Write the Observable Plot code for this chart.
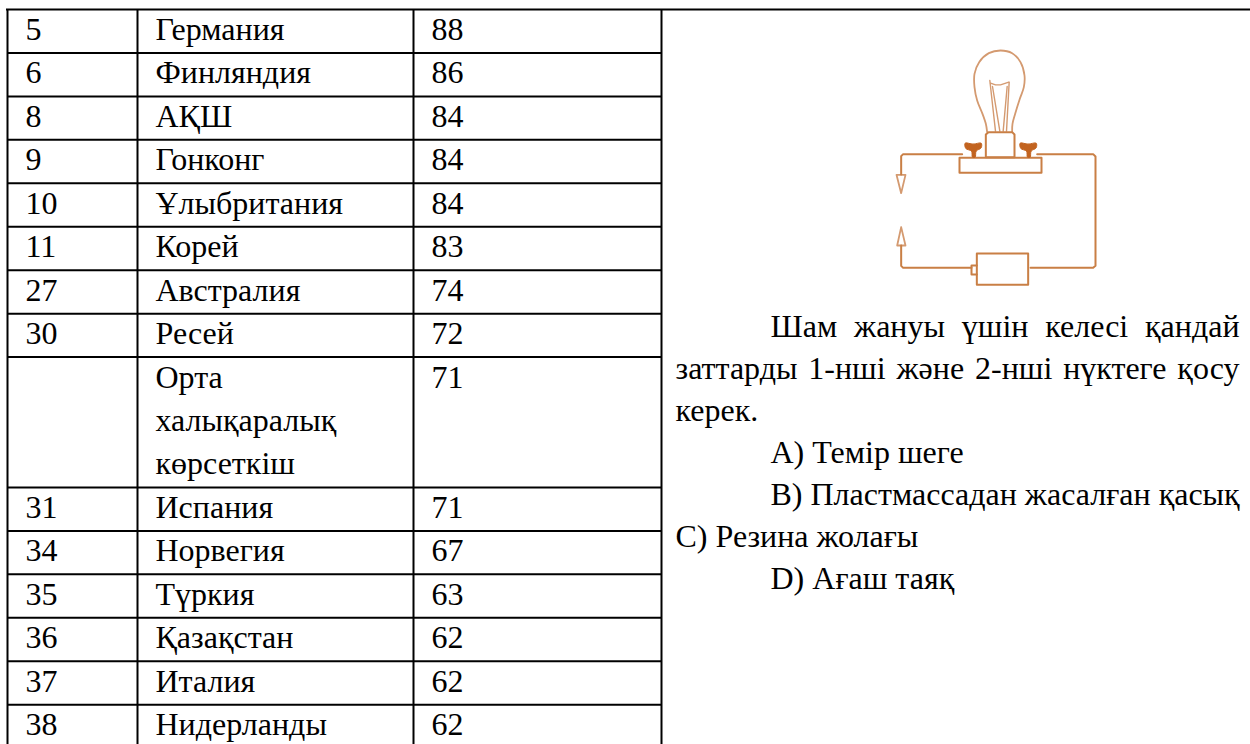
<!DOCTYPE html>
<html lang="kk">
<head>
<meta charset="utf-8">
<script src="https://cdn.jsdelivr.net/npm/d3@7"></script>
<script src="https://cdn.jsdelivr.net/npm/@observablehq/plot@0.6"></script>
<style>
html,body{margin:0;padding:0;background:#fff;overflow:hidden}
svg{display:block}
</style>
</head>
<body>
<div id="chart"></div>
<script>
// --- table data ---
const ranks = ["5","6","8","9","10","11","27","30","","31","34","35","36","37","38"];
const countries = ["Германия","Финляндия","АҚШ","Гонконг","Ұлыбритания","Корей","Австралия","Ресей",
  "Орта\nхалықаралық\nкөрсеткіш","Испания","Норвегия","Түркия","Қазақстан","Италия","Нидерланды"];
const scores = [88,86,84,84,84,83,74,72,71,71,67,63,62,62,62];
const rowLines = [1,1,1,1,1,1,1,1,3,1,1,1,1,1,1];

// --- question text (right column) ---
const questionLines = [
  {text:"Шам жануы үшін келесі қандай", indent:true, justify:true},
  {text:"заттарды 1-нші және 2-нші нүктеге қосу", indent:false, justify:true},
  {text:"керек.", indent:false},
  {text:"A) Темір шеге", indent:true},
  {text:"B) Пластмассадан жасалған қасық", indent:true},
  {text:"C) Резина жолағы", indent:false},
  {text:"D) Ағаш таяқ", indent:true}
];

// --- layout of the page, in pixels ---
const W = 1250, H = 744;
const tableTop = 9, lineH = 43.45;
const colEdges = [7, 137, 413, 661];
const textCols = [25, 155, 431];
const questionLeft = 675, questionIndent = 770, questionRight = 1239, questionFirst = 327.5, questionStep = 42;
const ink = "#000", wire = "#c97f45", wireLight = "#d49a70", wireDark = "#c2631f";

// --- illustration outlines, in units of a 810-wide drawing ---
const bulb = [[380,305],[376,280],[366,250],[350,210],[342,170],[342,130],[356,95],[385,68],[420,60],[455,68],[480,95],[492,135],[490,170],[478,205],[464,250],[456,280],[455,305]];
const filament = [
  [[388,150],[405,302]],[[396,168],[418,302]],[[446,155],[438,302]],[[440,168],[428,302]],
  [[390,158],[405,163],[420,163],[445,155]]
];
const circuit = [
  [[376,380],[376,312],[384,305],[455,305],[462,312],[462,380],[376,380]],
  [[297,382],[543,382],[543,427],[297,427],[297,382]],
  [[305,371],[128,371],[122,377],[122,432]],
  [[530,371],[698,371],[705,378],[705,706],[698,712],[510,712]],
  [[349,669],[503,669],[503,763],[349,763],[349,669]],
  [[349,705],[333,705],[333,732],[349,732]],
  [[333,712],[128,712],[122,706],[122,645]]
];
const clips = [
  [[108,433],[135,433],[122,488],[108,433]],
  [[122,590],[110,645],[135,645],[122,590]]
];
const knobs = [
  [[314,338],[338,341],[362,338],[362,352],[347,362],[344,380],[336,380],[333,362],[316,354]],
  [[479,338],[503,341],[527,338],[527,352],[512,362],[509,380],[501,380],[498,362],[481,354]]
];
const drawingX = 860, drawingY = 30, drawingScale = 3;

// --- derived tables ---
const toPage = ([x,y]) => [drawingX + x/drawingScale, drawingY + y/drawingScale];
const seriesOf = paths => paths.flatMap((p,i) => p.map(pt => { const [x,y] = toPage(pt); return {x,y,z:i}; }));

let cum = 0;
const rows = ranks.map((rank,i) => {
  const start = cum; cum += rowLines[i];
  return {rank, country:countries[i], score:scores[i], start, lines:rowLines[i]};
});
const yOf = n => tableTop + n*lineH;
const rowEdges = [0, ...rows.map(r => r.start + r.lines)];
const countryLines = rows.flatMap(r => r.country.split("\n").map((t,j) => ({t, y:yOf(r.start + j + .5)})));
const questionData = questionLines.map((l,i) => ({...l, x:l.indent?questionIndent:questionLeft, y:questionFirst + i*questionStep}));

const font = "'Liberation Serif','Times New Roman',serif";
const fontSize = 32;
const textOpts = {textAnchor:"start",fontFamily:font,fontSize,fill:ink,dy:-1.5};

const plot = Plot.plot({
  width:W, height:H, margin:0, style:{background:"#fff"},
  x:{domain:[0,W], range:[0,W], axis:null},
  y:{domain:[0,H], range:[0,H], axis:null},
  marks:[
    Plot.ruleY([tableTop],{x1:colEdges[0]-1,x2:W,y:d=>d,stroke:ink,strokeWidth:2}),
    Plot.ruleY(rowEdges.slice(1),{x1:colEdges[0],x2:colEdges[3],y:yOf,stroke:ink,strokeWidth:2}),
    Plot.ruleX(colEdges,{x:d=>d,y1:tableTop,y2:H,stroke:ink,strokeWidth:2}),
    Plot.text(rows,{x:textCols[0],y:d=>yOf(d.start+d.lines/2),text:"rank",...textOpts}),
    Plot.text(countryLines,{x:textCols[1],y:"y",text:"t",...textOpts}),
    Plot.text(rows,{x:textCols[2],y:d=>yOf(d.start+.5),text:d=>String(d.score),...textOpts}),
    Plot.text(questionData,{x:"x",y:"y",text:"text",...textOpts}),
    Plot.line(seriesOf([bulb]),{x:"x",y:"y",z:"z",curve:"catmull-rom",stroke:wireLight,strokeWidth:1.8}),
    Plot.line(seriesOf(filament),{x:"x",y:"y",z:"z",stroke:wireLight,strokeWidth:1.4}),
    Plot.line(seriesOf(clips),{x:"x",y:"y",z:"z",stroke:wireLight,strokeWidth:1.8}),
    Plot.line(seriesOf(circuit),{x:"x",y:"y",z:"z",stroke:wire,strokeWidth:2}),
    Plot.line(seriesOf(knobs),{x:"x",y:"y",z:"z",curve:"catmull-rom-closed",stroke:wireDark,fill:wireDark,strokeWidth:1})
  ]
});
document.getElementById("chart").appendChild(plot);

// justify the two full-width lines of the question with word spacing
d3.select(plot).selectAll("text").each(function(){
  const d = questionData.find(q => q.justify && q.text === this.textContent);
  if(!d) return;
  const gaps = d.text.split(" ").length - 1;
  const extra = (questionRight - d.x - this.getComputedTextLength())/gaps;
  this.setAttribute("word-spacing", extra);
});
// the illustration is a soft raster in the source: soften its lines a little
d3.select(plot).selectAll('g[aria-label="line"]').style("filter","blur(0.5px)");
</script>
</body>
</html>
